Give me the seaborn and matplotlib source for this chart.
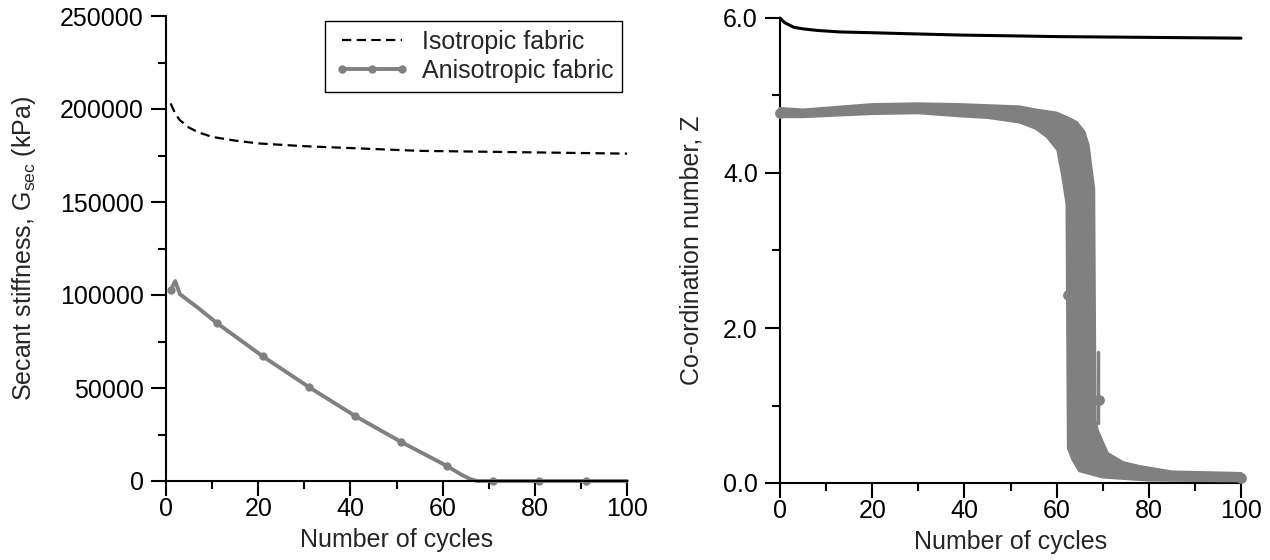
import numpy as np
import pandas as pd
import matplotlib
matplotlib.use("Agg")
import matplotlib.pyplot as plt
import seaborn as sns
from matplotlib.ticker import MultipleLocator, FormatStrFormatter

# Secant stiffness under cyclic loading (kPa)
iso_g_cycle = [1, 2, 3, 5, 7, 10, 15, 20, 30, 40, 55, 70, 85, 100]
iso_g = [203000, 197500, 194000, 190000, 187500, 185000, 183000, 181500,
         180000, 179000, 177500, 177000, 176500, 176000]

aniso_g_cycle = [1, 2, 3, 7, 11, 21, 31, 41, 51, 61, 64, 66, 67.5, 71, 81, 91, 100]
aniso_g = [102500, 107500, 100500, 93000, 85000, 67000, 50500, 35000, 21000,
           8000, 3500, 1000, 0, 0, 0, 0, 0]
aniso_g_marked = [1, 11, 21, 31, 41, 51, 61, 71, 81, 91]

# Co-ordination number, isotropic fabric
iso_z_cycle = [0, 1, 2, 3, 5, 8, 13, 20, 26, 39, 50, 60, 70, 80, 90, 100]
iso_z = [6.00, 5.94, 5.91, 5.88, 5.86, 5.84, 5.82, 5.81, 5.80, 5.78, 5.77,
         5.76, 5.755, 5.75, 5.745, 5.74]

# Co-ordination number, anisotropic fabric: upper and lower envelope of the scatter
aniso_z_upper_cycle = [0, 5, 20, 30, 39, 52, 55.5, 60, 62.7, 64.3, 65.9, 66.8, 67.3,
                       68.0, 68.3, 68.8, 70, 71, 74.4, 78, 85, 92.6, 100]
aniso_z_upper = [4.83, 4.81, 4.88, 4.89, 4.88, 4.85, 4.81, 4.77, 4.70, 4.65, 4.53,
                 4.36, 4.12, 3.80, 0.80, 0.68, 0.51, 0.38, 0.26, 0.21, 0.14, 0.13, 0.12]
aniso_z_lower_cycle = [0, 5, 20, 30, 39, 45, 52, 55.5, 58, 60.3, 61.4, 62.3, 62.6,
                       63.6, 65, 70, 80, 100]
aniso_z_lower = [4.73, 4.73, 4.77, 4.78, 4.74, 4.72, 4.66, 4.58, 4.47, 4.30, 3.95,
                 3.60, 0.45, 0.30, 0.16, 0.08, 0.04, 0.03]
# isolated excursions outside the envelope
aniso_z_spike_cycle = [69.0, 69.0]
aniso_z_spike = [0.77, 1.69]
aniso_z_point_cycle = [0, 62.4, 69.1, 100]
aniso_z_point = [4.78, 2.42, 1.07, 0.07]

GREY = "#808080"

sns.set_theme(style="ticks")
plt.rcParams["font.family"] = ["Liberation Sans", "DejaVu Sans"]
plt.rcParams.update({
    "axes.linewidth": 1.5,
    "xtick.major.width": 1.5, "ytick.major.width": 1.5,
    "xtick.minor.width": 1.5, "ytick.minor.width": 1.5,
    "xtick.major.size": 11, "ytick.major.size": 11,
    "xtick.minor.size": 6, "ytick.minor.size": 6,
    "xtick.major.pad": 0.5, "ytick.major.pad": 5,
    "xtick.color": "black", "ytick.color": "black",
    "axes.edgecolor": "black",
    "xtick.labelsize": 18, "ytick.labelsize": 18,
    "axes.labelsize": 18,
})

fig = plt.figure(figsize=(12.7, 5.6), dpi=100)
ax1 = fig.add_axes([166 / 1270, 79 / 560, 461 / 1270, 465 / 560])
ax2 = fig.add_axes([780 / 1270, 77 / 560, 461 / 1270, 465 / 560])

# ---- left: secant stiffness ----
df_iso_g = pd.DataFrame({"cycle": iso_g_cycle, "G": iso_g})
df_aniso_g = pd.DataFrame({"cycle": aniso_g_cycle, "G": aniso_g})
mark_idx = [aniso_g_cycle.index(c) for c in aniso_g_marked]

sns.lineplot(data=df_iso_g, x="cycle", y="G", ax=ax1, color="black", lw=1.6,
             linestyle=(0, (4.2, 2.4)), label="Isotropic fabric", clip_on=False)
sns.lineplot(data=df_aniso_g, x="cycle", y="G", ax=ax1, color=GREY, lw=2.8,
             marker="o", markersize=6, markeredgewidth=0, markevery=mark_idx,
             label="Anisotropic fabric", clip_on=False)

ax1.set_xlim(0, 100)
ax1.set_ylim(0, 250000)
ax1.xaxis.set_major_locator(MultipleLocator(20))
ax1.xaxis.set_minor_locator(MultipleLocator(10))
ax1.yaxis.set_major_locator(MultipleLocator(50000))
ax1.yaxis.set_minor_locator(MultipleLocator(25000))
ax1.set_xlabel("Number of cycles", labelpad=5)
ax1.set_ylabel(r"Secant stiffness, G$_{\mathregular{sec}}$ (kPa)", labelpad=16)
leg = ax1.legend(loc="upper right", frameon=True, fancybox=False, framealpha=1,
                 edgecolor="black", fontsize=18, handlelength=3.0, handletextpad=0.5,
                 borderpad=0.35, labelspacing=0.2, borderaxespad=0.2, numpoints=3)
leg.get_frame().set_linewidth(1.0)

# ---- right: co-ordination number ----
df_iso_z = pd.DataFrame({"cycle": iso_z_cycle, "Z": iso_z})
sns.lineplot(data=df_iso_z, x="cycle", y="Z", ax=ax2, color="black", lw=2.2,
             clip_on=False, legend=False)

env_x = np.r_[aniso_z_upper_cycle, aniso_z_lower_cycle[::-1]]
env_y = np.r_[aniso_z_upper, aniso_z_lower[::-1]]
ax2.fill(env_x, env_y, facecolor=GREY, edgecolor=GREY, lw=2.5,
         joinstyle="round", clip_on=False, zorder=3)
sns.lineplot(x=aniso_z_spike_cycle, y=aniso_z_spike, ax=ax2, color=GREY, lw=2.5,
             estimator=None, sort=False, legend=False, clip_on=False)
sns.scatterplot(x=aniso_z_point_cycle, y=aniso_z_point, ax=ax2, color=GREY, s=60,
                linewidth=0, legend=False, clip_on=False, zorder=4)

ax2.set_xlim(0, 100)
ax2.set_ylim(0, 6.0)
ax2.xaxis.set_major_locator(MultipleLocator(20))
ax2.xaxis.set_minor_locator(MultipleLocator(10))
ax2.yaxis.set_major_locator(MultipleLocator(2.0))
ax2.yaxis.set_minor_locator(MultipleLocator(1.0))
ax2.yaxis.set_major_formatter(FormatStrFormatter("%.1f"))
ax2.set_xlabel("Number of cycles", labelpad=5)
ax2.set_ylabel("Co-ordination number, Z", labelpad=14)

for ax in (ax1, ax2):
    sns.despine(ax=ax)
    ax.tick_params(which="both", direction="out")
    ax.set_facecolor("white")

fig.savefig("out.png", dpi=100, facecolor="white")
